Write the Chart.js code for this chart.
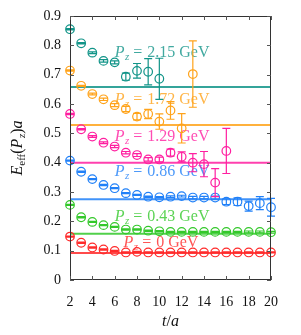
<!DOCTYPE html>
<html>
<head>
<meta charset="utf-8">
<script src="https://cdn.jsdelivr.net/npm/chart.js@4"></script>
<style>
  html, body { margin: 0; padding: 0; background: #fff; }
  #wrap { width: 301px; height: 335px; }
</style>
</head>
<body>
<div id="wrap"><canvas id="chart"></canvas></div>
<script>
// effective energy vs t/a for six momenta, values start at t = 2
const tStart = 2;
const momenta = ["0", "0.43", "0.86", "1.29", "1.72", "2.15"];
const colors = ["#ff2a2a", "#33c82a", "#2080f8", "#ff1fa0", "#ffa31a", "#119488"];

const eP0   = [0.148, 0.127, 0.111, 0.104, 0.099, 0.094, 0.096, 0.094, 0.094, 0.094, 0.094, 0.094, 0.094, 0.094, 0.094, 0.094, 0.094, 0.094, 0.094];
const eP043 = [0.256, 0.214, 0.198, 0.187, 0.181, 0.172, 0.172, 0.168, 0.166, 0.164, 0.164, 0.164, 0.164, 0.164, 0.164, 0.164, 0.164, 0.164, 0.163];
const eP086 = [0.407, 0.369, 0.344, 0.324, 0.313, 0.296, 0.290, 0.284, 0.282, 0.284, 0.286, 0.281, 0.281, 0.281, 0.267, 0.267, 0.252, 0.262, 0.248];
const eP129 = [0.566, 0.514, 0.489, 0.468, 0.455, 0.434, 0.426, 0.411, 0.411, 0.434, 0.420, 0.400, 0.395, 0.332, 0.440];
const eP172 = [0.714, 0.662, 0.634, 0.616, 0.596, 0.583, 0.557, 0.566, 0.540, 0.578, 0.517, 0.702];
const eP215 = [0.855, 0.807, 0.775, 0.747, 0.742, 0.693, 0.713, 0.710, 0.686];

const errP0   = [0.002, 0.002, 0.002, 0.002, 0.002, 0.002, 0.002, 0.002, 0.002, 0.002, 0.002, 0.002, 0.002, 0.002, 0.002, 0.002, 0.002, 0.002, 0.002];
const errP043 = [0.002, 0.002, 0.002, 0.002, 0.002, 0.002, 0.002, 0.002, 0.002, 0.002, 0.002, 0.002, 0.002, 0.002, 0.002, 0.002, 0.003, 0.003, 0.003];
const errP086 = [0.002, 0.002, 0.002, 0.002, 0.002, 0.002, 0.002, 0.002, 0.002, 0.003, 0.003, 0.004, 0.004, 0.005, 0.010, 0.013, 0.017, 0.022, 0.030];
const errP129 = [0.002, 0.002, 0.003, 0.003, 0.004, 0.004, 0.005, 0.006, 0.008, 0.012, 0.017, 0.031, 0.043, 0.048, 0.077];
const errP172 = [0.002, 0.002, 0.003, 0.004, 0.005, 0.009, 0.011, 0.016, 0.026, 0.030, 0.050, 0.113];
const errP215 = [0.002, 0.002, 0.003, 0.004, 0.005, 0.012, 0.025, 0.045, 0.070];

// plateau fits
const fitValues = [0.092, 0.158, 0.275, 0.400, 0.528, 0.658];

// label anchors (t, E) for the P_z tags
const labelT = [6.8, 6.0, 6.0, 6.0, 6.0, 6.0];
const labelE = [0.113, 0.201, 0.355, 0.474, 0.600, 0.760];

const xTicks = [2, 4, 6, 8, 10, 12, 14, 16, 18, 20];
const yTicks = [0, 0.1, 0.2, 0.3, 0.4, 0.5, 0.6, 0.7, 0.8, 0.9];

const allValues = [eP0, eP043, eP086, eP129, eP172, eP215];
const allErrors = [errP0, errP043, errP086, errP129, errP172, errP215];

const serif = "'Liberation Serif', 'DejaVu Serif', serif";

function hexA(hex, a) {
    const n = parseInt(hex.slice(1), 16);
    return `rgba(${(n >> 16) & 255}, ${(n >> 8) & 255}, ${n & 255}, ${a})`;
}

const datasets = [];
momenta.forEach((p, i) => {
    datasets.push({
        type: 'line',
        label: 'fit ' + p,
        data: [{ x: xTicks[0], y: fitValues[i] }, { x: xTicks[xTicks.length - 1], y: fitValues[i] }],
        borderColor: hexA(colors[i], 0.85),
        borderWidth: 2,
        pointRadius: 0,
        order: 2
    });
    datasets.push({
        type: 'scatter',
        label: 'P_z = ' + p + ' GeV',
        data: allValues[i].map((v, k) => ({ x: tStart + k, y: v })),
        errors: allErrors[i],
        tagT: labelT[i],
        tagE: labelE[i],
        tagValue: p,
        borderColor: colors[i],
        backgroundColor: 'transparent',
        pointRadius: 4.3,
        pointBorderWidth: 1.2,
        pointHoverRadius: 4.3,
        clip: false,
        order: 1
    });
});

// draws segments of mixed font at x (left), baseline y; returns width
function drawRich(ctx, parts, x, y, measureOnly) {
    let w = 0;
    parts.forEach(p => {
        ctx.font = p.font;
        if (!measureOnly) ctx.fillText(p.text, x + w, y + (p.dy || 0));
        w += ctx.measureText(p.text).width + (p.gap || 0);
    });
    return w;
}

const decorPlugin = {
    id: 'decor',
    beforeDatasetsDraw(chart) {
        const ctx = chart.ctx;
        const xs = chart.scales.x, ys = chart.scales.y;
        ctx.save();
        ctx.textBaseline = 'alphabetic';
        chart.data.datasets.forEach(ds => {
            if (ds.type !== 'scatter') return;
            ctx.fillStyle = hexA(ds.borderColor, 0.8);
            const x0 = xs.getPixelForValue(ds.tagT);
            const y0 = ys.getPixelForValue(ds.tagE);
            drawRich(ctx, [
                { text: 'P', font: `italic 16px ${serif}`, gap: 0.5 },
                { text: 'z', font: `italic 11px ${serif}`, dy: 3, gap: 4 },
                { text: '=', font: `16px ${serif}`, gap: 5 },
                { text: ds.tagValue, font: `16px ${serif}`, gap: 4 },
                { text: 'GeV', font: `16px ${serif}` }
            ], x0, y0);
        });
        ctx.restore();
    },
    afterDatasetsDraw(chart) {
        const ctx = chart.ctx;
        const xs = chart.scales.x, ys = chart.scales.y;
        ctx.save();
        ctx.lineWidth = 1.2;
        chart.data.datasets.forEach(ds => {
            if (ds.type !== 'scatter') return;
            ctx.strokeStyle = ds.borderColor;
            ds.data.forEach((pt, k) => {
                const e = ds.errors[k];
                const px = xs.getPixelForValue(pt.x);
                const yTop = ys.getPixelForValue(pt.y + e);
                const yBot = ys.getPixelForValue(pt.y - e);
                ctx.beginPath();
                ctx.moveTo(px, yTop); ctx.lineTo(px, yBot);
                ctx.moveTo(px - 4, yTop); ctx.lineTo(px + 4, yTop);
                ctx.moveTo(px - 4, yBot); ctx.lineTo(px + 4, yBot);
                ctx.stroke();
            });
        });
        ctx.restore();
    },
    afterDraw(chart) {
        const ctx = chart.ctx;
        const a = chart.chartArea;
        const xs = chart.scales.x, ys = chart.scales.y;
        ctx.save();
        // frame with inward ticks on all sides
        ctx.strokeStyle = '#333';
        ctx.lineWidth = 1;
        ctx.strokeRect(a.left + 0.5, a.top + 0.5, a.right - a.left - 1, a.bottom - a.top - 1);
        ctx.strokeStyle = '#555';
        ctx.beginPath();
        xTicks.forEach(t => {
            const px = Math.round(xs.getPixelForValue(t)) + 0.5;
            ctx.moveTo(px, a.bottom); ctx.lineTo(px, a.bottom - 4);
            ctx.moveTo(px, a.top); ctx.lineTo(px, a.top + 4);
        });
        yTicks.forEach(v => {
            const py = Math.round(ys.getPixelForValue(v)) + 0.5;
            ctx.moveTo(a.left, py); ctx.lineTo(a.left + 4, py);
            ctx.moveTo(a.right, py); ctx.lineTo(a.right - 4, py);
        });
        ctx.stroke();

        // axis titles
        ctx.fillStyle = '#111';
        ctx.textBaseline = 'alphabetic';
        const xParts = [
            { text: 't', font: `italic 16px ${serif}` },
            { text: '/', font: `16px ${serif}` },
            { text: 'a', font: `italic 16px ${serif}` }
        ];
        const xw = drawRich(ctx, xParts, 0, 0, true);
        drawRich(ctx, xParts, (a.left + a.right) / 2 - xw / 2, 326);

        const yParts = [
            { text: 'E', font: `italic 16px ${serif}` },
            { text: 'eff', font: `11px ${serif}`, dy: 3 },
            { text: '(', font: `16px ${serif}` },
            { text: 'P', font: `italic 16px ${serif}`, gap: 0.5 },
            { text: 'z', font: `italic 11px ${serif}`, dy: 3 },
            { text: ')', font: `16px ${serif}` },
            { text: 'a', font: `italic 16px ${serif}` }
        ];
        const yw = drawRich(ctx, yParts, 0, 0, true);
        ctx.translate(22, 148);
        ctx.rotate(-Math.PI / 2);
        drawRich(ctx, yParts, -yw / 2, 0);
        ctx.restore();
    }
};

new Chart(document.getElementById('chart'), {
    data: { datasets },
    options: {
        responsive: true,
        maintainAspectRatio: false,
        animation: false,
        events: [],
        layout: { padding: { left: 0, right: 30, top: 16, bottom: 0 } },
        scales: {
            x: {
                type: 'linear',
                min: 2, max: 20,
                afterFit: (s) => { s.height = 55; },
                afterBuildTicks: (s) => { s.ticks = xTicks.map(v => ({ value: v })); },
                grid: { display: false },
                border: { display: false },
                ticks: { color: '#111', font: { family: serif, size: 14 }, padding: 6, maxRotation: 0, autoSkip: false }
            },
            y: {
                type: 'linear',
                min: 0, max: 0.9,
                afterFit: (s) => { s.width = 70; },
                afterBuildTicks: (s) => { s.ticks = yTicks.map(v => ({ value: v })); },
                grid: { display: false },
                border: { display: false },
                ticks: {
                    color: '#111', font: { family: serif, size: 14 }, padding: 1,
                    callback: (v) => v === 0 ? '0' : v.toFixed(1)
                }
            }
        },
        plugins: { legend: { display: false }, tooltip: { enabled: false } }
    },
    plugins: [decorPlugin]
});
</script>
</body>
</html>
